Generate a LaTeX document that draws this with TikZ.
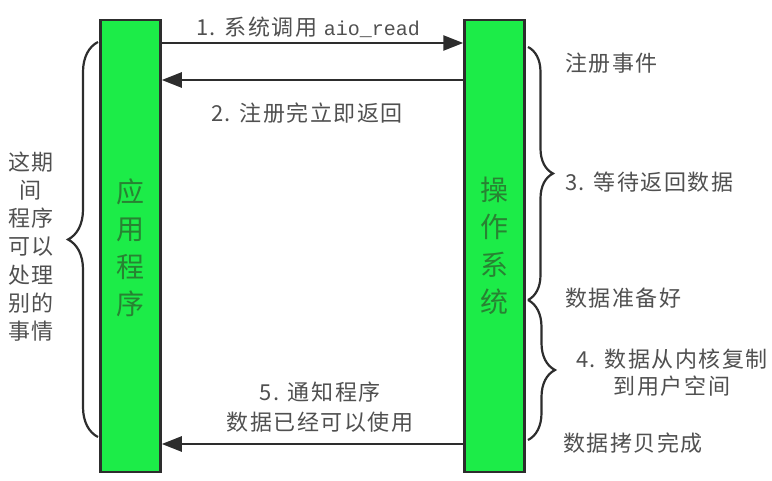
\documentclass[tikz,border=0pt]{standalone}
\usepackage{fontspec}
\setmainfont[LetterSpace=7]{Noto Sans CJK SC}
\newfontfamily\monof{Liberation Mono}
\usetikzlibrary{arrows.meta,decorations.pathreplacing}
\definecolor{barfill}{RGB}{28,236,72}
\definecolor{bartext}{RGB}{40,130,50}
\definecolor{txt}{RGB}{80,80,80}
\definecolor{lin}{RGB}{45,45,45}
\begin{document}
\begin{tikzpicture}[x=1pt,y=-1pt,
  bar/.style={draw=lin, line width=2.5pt, fill=barfill, minimum width=60pt, minimum height=452pt, inner sep=0pt},
  bartxt/.style={text=bartext, align=center, inner sep=0pt, font=\fontsize{28}{37.5}\selectfont},
  lbl/.style={text=txt, inner sep=0pt, font=\fontsize{22}{27}\selectfont},
  arr/.style={draw=lin, line width=2.5pt, -{Triangle[length=20pt,width=15pt]}},
  brc/.style={draw=lin, line width=2.2pt, decorate, decoration={brace, amplitude=#1}}
]
\useasboundingbox (0,0) rectangle (772,480);

% bars
\node[bar] (appbar) at (130.5,246) {};
\node[bar] (osbar) at (494.5,246) {};
\node[bartxt] (apptxt) at (130.5,248) {应\\用\\程\\序};
\node[bartxt] (ostxt) at (494.5,246) {操\\作\\系\\统};

% arrow levels
\coordinate (y1) at (0,43);
\coordinate (y2) at (0,80);
\coordinate (y5) at (0,444);
\draw[arr] (appbar.east |- y1) -- (osbar.west |- y1);
\draw[arr] (osbar.west |- y2) -- (appbar.east |- y2);
\draw[arr] (osbar.west |- y5) -- (appbar.east |- y5);

% arrow labels
\node[lbl] (l1) at (308,27) {1. 系统调用 {\monof\fontsize{20}{24}\selectfont aio\_read}};
\node[lbl] (l2) at (307,113) {2. 注册完立即返回};
\node[lbl, align=center, font=\fontsize{22}{30}\selectfont] (l5) at (320,407) {5. 通知程序\\数据已经可以使用};

% left brace
\coordinate (lb1) at (98,437);
\coordinate (lb2) at (98,42);
\draw[brc=30pt] (lb1) -- (lb2);
\node[lbl, align=center, font=\fontsize{22}{28.2}\selectfont] (lnote) at (31,246.5) {这期\\间\\程序\\可以\\处理\\别的\\事情};

% right braces
\coordinate (rb1) at (528,47);
\coordinate (rb2) at (528,300);
\coordinate (rb3) at (528,440);
\draw[brc=25pt] (rb1) -- (rb2);
\draw[brc=27pt] (rb2) -- (rb3);

% right labels
\node[lbl, anchor=west] (r1) at (565,63) {注册事件};
\node[lbl, anchor=west] (r2) at (565,182) {3. 等待返回数据};
\node[lbl, anchor=west] (r3) at (565,298) {数据准备好};
\node[lbl, align=center] (r4) at (672,373) {4. 数据从内核复制\\到用户空间};
\node[lbl, anchor=west] (r5) at (563,443) {数据拷贝完成};
\end{tikzpicture}
\end{document}
